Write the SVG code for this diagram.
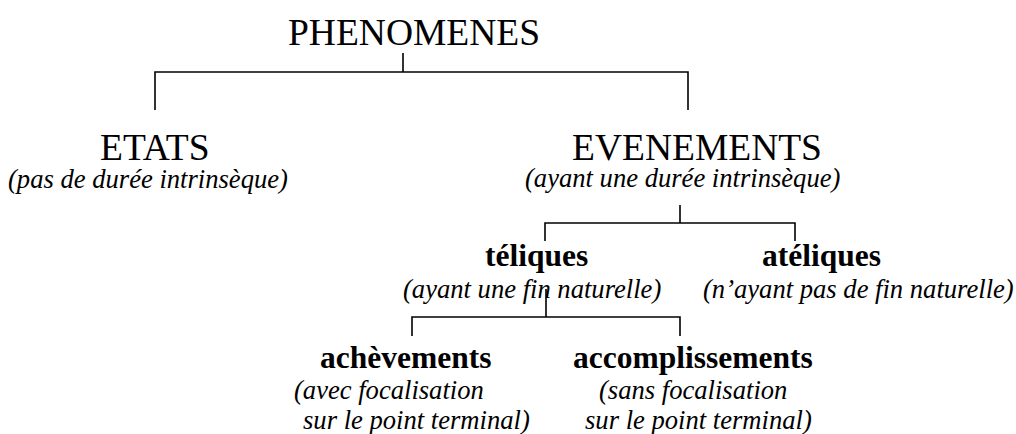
<svg xmlns="http://www.w3.org/2000/svg" width="1016" height="434" viewBox="0 0 1016 434">
  <style>
    text { font-family: "Liberation Serif", "Times New Roman", serif; fill: #000; }
    .title { font-size: 37.5px; }
    .kind { font-size: 31.5px; font-weight: bold; }
    .note { font-size: 26.6px; font-style: italic; }
    .link { fill: none; stroke: #000; stroke-width: 1.6; }
  </style>
  <rect width="1016" height="434" fill="#fff"/>

  <!-- tree branches -->
  <g id="connectors">
    <path class="link" d="M403 53 V72 M155 110 V72 H688 V110"/>
    <path class="link" d="M680 205 V223 M545 241 V223 H795 V241"/>
    <path class="link" d="M546 289 V317 M412 336 V317 H680 V336"/>
  </g>

  <g id="phenomenes">
    <text class="title" x="288" y="45">PHENOMENES</text>
  </g>

  <g id="etats">
    <text class="title" x="100" y="160">ETATS</text>
    <text class="note" x="8" y="188">(pas de durée intrinsèque)</text>
  </g>

  <g id="evenements">
    <text class="title" x="572" y="160">EVENEMENTS</text>
    <text class="note" x="525" y="187">(ayant une durée intrinsèque)</text>
  </g>

  <g id="teliques">
    <text class="kind" x="485" y="266">téliques</text>
    <text class="note" x="403" y="298">(ayant une fin naturelle)</text>
  </g>

  <g id="ateliques">
    <text class="kind" x="762" y="266">atéliques</text>
    <text class="note" x="703" y="298">(n’ayant pas de fin naturelle)</text>
  </g>

  <g id="achevements">
    <text class="kind" x="320" y="368">achèvements</text>
    <text class="note" x="294" y="399">(avec focalisation</text>
    <text class="note" x="303" y="429">sur le point terminal)</text>
  </g>

  <g id="accomplissements">
    <text class="kind" x="573" y="368">accomplissements</text>
    <text class="note" x="599" y="399">(sans focalisation</text>
    <text class="note" x="585" y="429">sur le point terminal)</text>
  </g>
</svg>
